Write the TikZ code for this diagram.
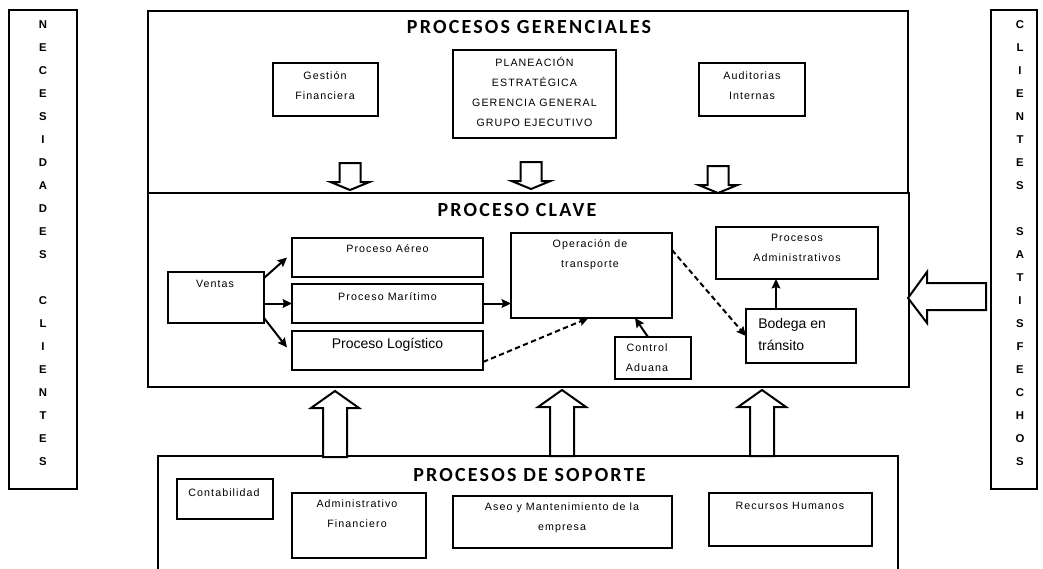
\documentclass[tikz,border=0pt]{standalone}
\usepackage{fontspec}
\setmainfont{Liberation Sans}
\newfontfamily\titlefont[LetterSpace=11]{Carlito}
\newfontfamily\boxfont[LetterSpace=10]{Liberation Sans}
\usetikzlibrary{arrows.meta,fit,calc}

\tikzset{
  frame/.style={draw, line width=1.6pt, inner sep=0pt, outer sep=0pt},
  sbox/.style={draw, line width=0.9pt, inner sep=0pt, outer sep=0pt},
  title/.style={font=\titlefont\bfseries\fontsize{15}{18}\selectfont, inner sep=0pt},
  txt/.style={font=\boxfont\fontsize{8}{15}\selectfont, align=center, inner sep=0pt},
  bigtxt/.style={font=\fontsize{10.5}{16.5}\selectfont, align=left, inner sep=0pt},
  sidetxt/.style={font=\bfseries\fontsize{8.5}{17.25}\selectfont, align=center, inner sep=0pt},
  arr/.style={line width=1.5pt, -{Stealth[length=7pt,width=6.5pt,inset=1pt]}},
  dasharr/.style={arr, dash pattern=on 4pt off 2.5pt},
  block/.style={draw, line width=1.5pt, fill=white, line join=miter},
  downblock/.pic={\draw[block] (0,0) -- (-19.5,-8) -- (-10.5,-8) -- (-10.5,-27)
      -- (10.5,-27) -- (10.5,-8) -- (19.5,-8) -- cycle;},
  upblock/.pic={\draw[block] (0,0) -- (24,17) -- (12,17) -- (12,66)
      -- (-12,66) -- (-12,17) -- (-24,17) -- cycle;}
}

\begin{document}
\begin{tikzpicture}[x=0.75pt,y=-0.75pt]
\useasboundingbox (0,0) rectangle (1043,568);
\clip (0,0) rectangle (1043,568);

% side columns
\node[frame, fit={(9,10) (77,489)}] (necesidades) {};
\node[sidetxt] (nec-t) at (43,243) {N\\E\\C\\E\\S\\I\\D\\A\\D\\E\\S\\[17.25pt]C\\L\\I\\E\\N\\T\\E\\S};
\node[frame, fit={(991,10) (1037,489)}] (satisfechos) {};
\node[sidetxt] (sat-t) at (1020,243) {C\\L\\I\\E\\N\\T\\E\\S\\[17.25pt]S\\A\\T\\I\\S\\F\\E\\C\\H\\O\\S};

% management processes
\node[frame, fit={(148,11) (908,193)}] (gerenciales) {};
\node[title] (ger-t) at (529,27) {PROCESOS GERENCIALES};
\node[sbox, fit={(273,63) (378,116)}] (gestion) {};
\node[txt] at (325,86) {Gestión\\Financiera};
\node[sbox, fit={(453,50) (616,138)}] (planeacion) {};
\node[txt] at (534.5,92) {PLANEACIÓN\\ESTRATÉGICA\\GERENCIA GENERAL\\GRUPO EJECUTIVO};
\node[sbox, fit={(699,63) (805,116)}] (auditorias) {};
\node[txt] at (752,86) {Auditorias\\Internas};

% key process
\node[frame, fit={(148,193) (909,387)}] (clave) {};
\node[title] (clave-t) at (517,210) {PROCESO CLAVE};
\node[sbox, fit={(168,272) (264,323)}] (ventas) {};
\node[txt] at (215,284) {Ventas};
\node[sbox, fit={(292,238) (483,277)}] (aereo) {};
\node[txt] at (387.5,249) {Proceso Aéreo};
\node[sbox, fit={(292,284) (483,323)}] (maritimo) {};
\node[txt] at (387.5,297) {Proceso Marítimo};
\node[sbox, fit={(292,331) (483,370)}] (logistico) {};
\node[bigtxt] at (387.5,345) {Proceso Logístico};
\node[sbox, fit={(511,233) (672,318)}] (operacion) {};
\node[txt] at (590,254.5) {Operación de\\transporte};
\node[sbox, fit={(615,337) (691,379)}] (aduana) {};
\node[txt] at (647,358) {Control\\Aduana};
\node[sbox, fit={(716,227) (878,279)}] (admin) {};
\node[txt] at (797,248) {Procesos\\Administrativos};
\node[sbox, fit={(746,309) (856,363)}] (bodega) {};
\node[bigtxt, anchor=west] at (758,334) {Bodega en\\tránsito};

% connectors inside the key process
\draw[arr] ($(ventas.north east)+(0,6)$) -- ($(aereo.west)+(-5,0)$);
\draw[arr] (ventas.east |- maritimo.west) -- (maritimo.west);
\draw[arr] ($(ventas.south east)+(0,-5)$) -- ($(logistico.west)+(-5,-3)$);
\draw[arr] (maritimo.east) -- (operacion.west |- maritimo.east);
\draw[dasharr] ($(logistico.south east)+(0,-8)$) -- ($(operacion.south)+(-3,0)$);
\draw[arr] ($(aduana.north)+(-5,0)$) -- ($(operacion.south)+(43.5,0)$);
\draw[dasharr] ($(operacion.north east)+(0,17)$) -- ($(bodega.west)+(0,0)$);
\coordinate (bod-up) at ($(bodega.north)+(-25,0)$);
\draw[arr] (bod-up) -- (bod-up |- admin.south);

% support processes
\node[frame, fit={(158,456) (898,600)}] (soporte) {};
\node[title] (sop-t) at (529.5,475) {PROCESOS DE SOPORTE};
\node[sbox, fit={(177,479) (273,519)}] (contabilidad) {};
\node[txt] at (224,493) {Contabilidad};
\node[sbox, fit={(292,493) (426,558)}] (adminfin) {};
\node[txt] at (357,514) {Administrativo\\Financiero};
\node[sbox, fit={(453,496) (672,548)}] (aseo) {};
\node[txt] at (562,518) {Aseo y Mantenimiento de la\\empresa};
\node[sbox, fit={(709,493) (872,546)}] (rrhh) {};
\node[txt] at (790,506) {Recursos Humanos};

% hollow block arrows between the levels
\pic at (350,190) {downblock};
\pic at (531,189) {downblock};
\pic at (718,193) {downblock};
\pic at (335,391) {upblock};
\pic at (562,390) {upblock};
\pic at (762,390) {upblock};
\draw[block] (908,298) -- (927,272) -- (927,283) -- (986,283) -- (986,310)
  -- (927,310) -- (927,323) -- cycle;
\end{tikzpicture}
\end{document}
